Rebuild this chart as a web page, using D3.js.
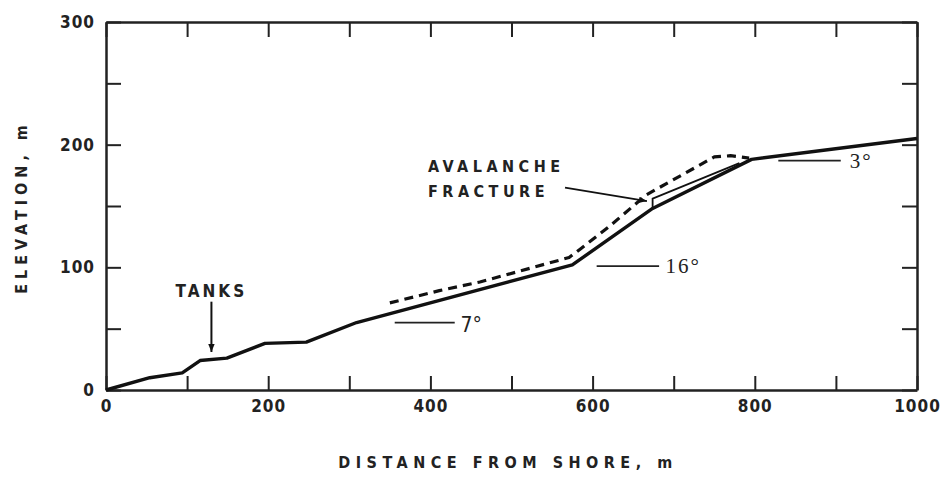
<!DOCTYPE html>
<html>
<head>
<meta charset="utf-8">
<script src="https://d3js.org/d3.v7.min.js"></script>
<style>
  body { margin: 0; background: #fff; }
  text { font-family: "DejaVu Sans", sans-serif; font-weight: bold; fill: #222; }
  .lbl { font-stretch: condensed; }
</style>
</head>
<body>
<div id="chart"></div>
<script>
// profile of the slope (distance m, elevation m)
var groundX = [0, 54, 94, 116, 149, 196, 247, 309, 575, 674, 796, 1000];
var groundY = [0, 10, 14, 24, 26, 38, 39, 55, 102, 148, 188, 205];
// surface before the avalanche (dashed)
var beforeX = [350, 411, 461, 571, 585, 620, 666, 750, 770, 793];
var beforeY = [71, 81, 88, 108, 115, 133, 159, 190, 191, 189];
// fracture block top (thin line)
var blockX = [674, 674, 781];
var blockY = [148, 156, 185];

var xTicks = [0, 100, 200, 300, 400, 500, 600, 700, 800, 900, 1000];
var xLabels = [0, 200, 400, 600, 800, 1000];
var yTicks = [0, 50, 100, 150, 200, 250, 300];
var yLabels = [0, 100, 200, 300];

var W = 942, H = 477;
var margin = {top: 22, right: 25, bottom: 87, left: 106};
var w = W - margin.left - margin.right, h = H - margin.top - margin.bottom;

var svg = d3.select('#chart').append('svg').attr('width', W).attr('height', H);
var g = svg.append('g').attr('transform', 'translate(' + margin.left + ',' + margin.top + ')');

var x = d3.scaleLinear().domain([0, 1000]).range([0, w]);
var y = d3.scaleLinear().domain([0, 300]).range([h, 0]);

var fmtX = d => xLabels.indexOf(d) >= 0 ? d : '';
var fmtY = d => yLabels.indexOf(d) >= 0 ? d : '';

function styleAxis(sel) {
  sel.select('.domain').attr('stroke', '#222').attr('stroke-width', 2.5);
  sel.selectAll('.tick line').attr('stroke', '#222').attr('stroke-width', 2);
  sel.selectAll('.tick text').attr('class', 'lbl').style('font-size', '17px').style('letter-spacing', '1px');
}

g.append('g').attr('transform', 'translate(0,' + h + ')')
  .call(d3.axisBottom(x).tickValues(xTicks).tickSize(-14).tickSizeOuter(0).tickPadding(10).tickFormat(fmtX))
  .call(styleAxis);
g.append('g')
  .call(d3.axisTop(x).tickValues(xTicks).tickSize(-15).tickSizeOuter(0).tickFormat(''))
  .call(styleAxis);
g.append('g')
  .call(d3.axisLeft(y).tickValues(yTicks).tickSize(-15).tickSizeOuter(0).tickPadding(11).tickFormat(fmtY))
  .call(styleAxis);
g.append('g').attr('transform', 'translate(' + w + ',0)')
  .call(d3.axisRight(y).tickValues(yTicks).tickSize(-15).tickSizeOuter(0).tickFormat(''))
  .call(styleAxis);
g.selectAll('.tick text').attr('fill', '#222');

var line = d3.line().x(d => x(d[0])).y(d => y(d[1]));

g.append('path').datum(groundX.map((d, i) => [d, groundY[i]]))
  .attr('d', line).attr('fill', 'none').attr('stroke', '#111')
  .attr('stroke-width', 3.4).attr('stroke-linejoin', 'round');
g.append('path').datum(beforeX.map((d, i) => [d, beforeY[i]]))
  .attr('d', line).attr('fill', 'none').attr('stroke', '#111')
  .attr('stroke-width', 3.2).attr('stroke-dasharray', '9,6').attr('stroke-linejoin', 'round');
g.append('path').datum(blockX.map((d, i) => [d, blockY[i]]))
  .attr('d', line).attr('fill', 'none').attr('stroke', '#111').attr('stroke-width', 1.8);

// arrowhead
svg.append('defs').append('marker').attr('id', 'ah')
  .attr('viewBox', '0 0 10 10').attr('refX', 10).attr('refY', 5)
  .attr('markerWidth', 8).attr('markerHeight', 8).attr('markerUnits', 'userSpaceOnUse')
  .attr('orient', 'auto')
  .append('path').attr('d', 'M0,1 L10,5 L0,9 Z').attr('fill', '#111');

function arrow(x1, y1, x2, y2, sw) {
  g.append('line').attr('x1', x(x1)).attr('y1', y(y1)).attr('x2', x(x2)).attr('y2', y(y2))
    .attr('stroke', '#111').attr('stroke-width', sw).attr('marker-end', 'url(#ah)');
}
function leader(x1, x2, yy) {
  g.append('line').attr('x1', x(x1)).attr('x2', x(x2)).attr('y1', y(yy)).attr('y2', y(yy))
    .attr('stroke', '#222').attr('stroke-width', 1.8);
}

// annotations
g.append('text').attr('class', 'lbl').attr('x', x(130)).attr('y', y(76))
  .attr('text-anchor', 'middle').style('font-size', '17px').style('letter-spacing', '3px').text('TANKS');
arrow(130, 72, 130, 31, 2);

g.append('text').attr('class', 'lbl').attr('x', x(397)).attr('y', y(178))
  .style('font-size', '16px').style('letter-spacing', '4.5px').text('AVALANCHE');
g.append('text').attr('class', 'lbl').attr('x', x(397)).attr('y', y(157))
  .style('font-size', '16px').style('letter-spacing', '4.5px').text('FRACTURE');
arrow(566, 165, 667, 154, 1.8);

leader(356, 430, 55);
g.append('text').attr('class', 'lbl').attr('x', x(437)).attr('y', y(47))
  .style('font-size', '21px').style('font-weight', 'normal').text('7°');
leader(605, 682, 101);
g.append('text').attr('x', x(690)).attr('y', y(95))
  .style('font-family', '"Liberation Serif", serif').style('font-weight', 'normal')
  .style('font-size', '21px').style('letter-spacing', '2px').text('16°');
leader(829, 906, 187);
g.append('text').attr('x', x(917)).attr('y', y(181))
  .style('font-family', '"Liberation Serif", serif').style('font-weight', 'normal')
  .style('font-size', '21px').style('letter-spacing', '2px').text('3°');

// axis titles
svg.append('text').attr('class', 'lbl').attr('x', 508).attr('y', 468)
  .attr('text-anchor', 'middle').style('font-size', '16px').style('letter-spacing', '5.5px')
  .text('DISTANCE FROM SHORE, m');
svg.append('text').attr('class', 'lbl').attr('transform', 'translate(27,207) rotate(-90)')
  .attr('text-anchor', 'middle').style('font-size', '16px').style('letter-spacing', '5px')
  .text('ELEVATION, m');
</script>
</body>
</html>
